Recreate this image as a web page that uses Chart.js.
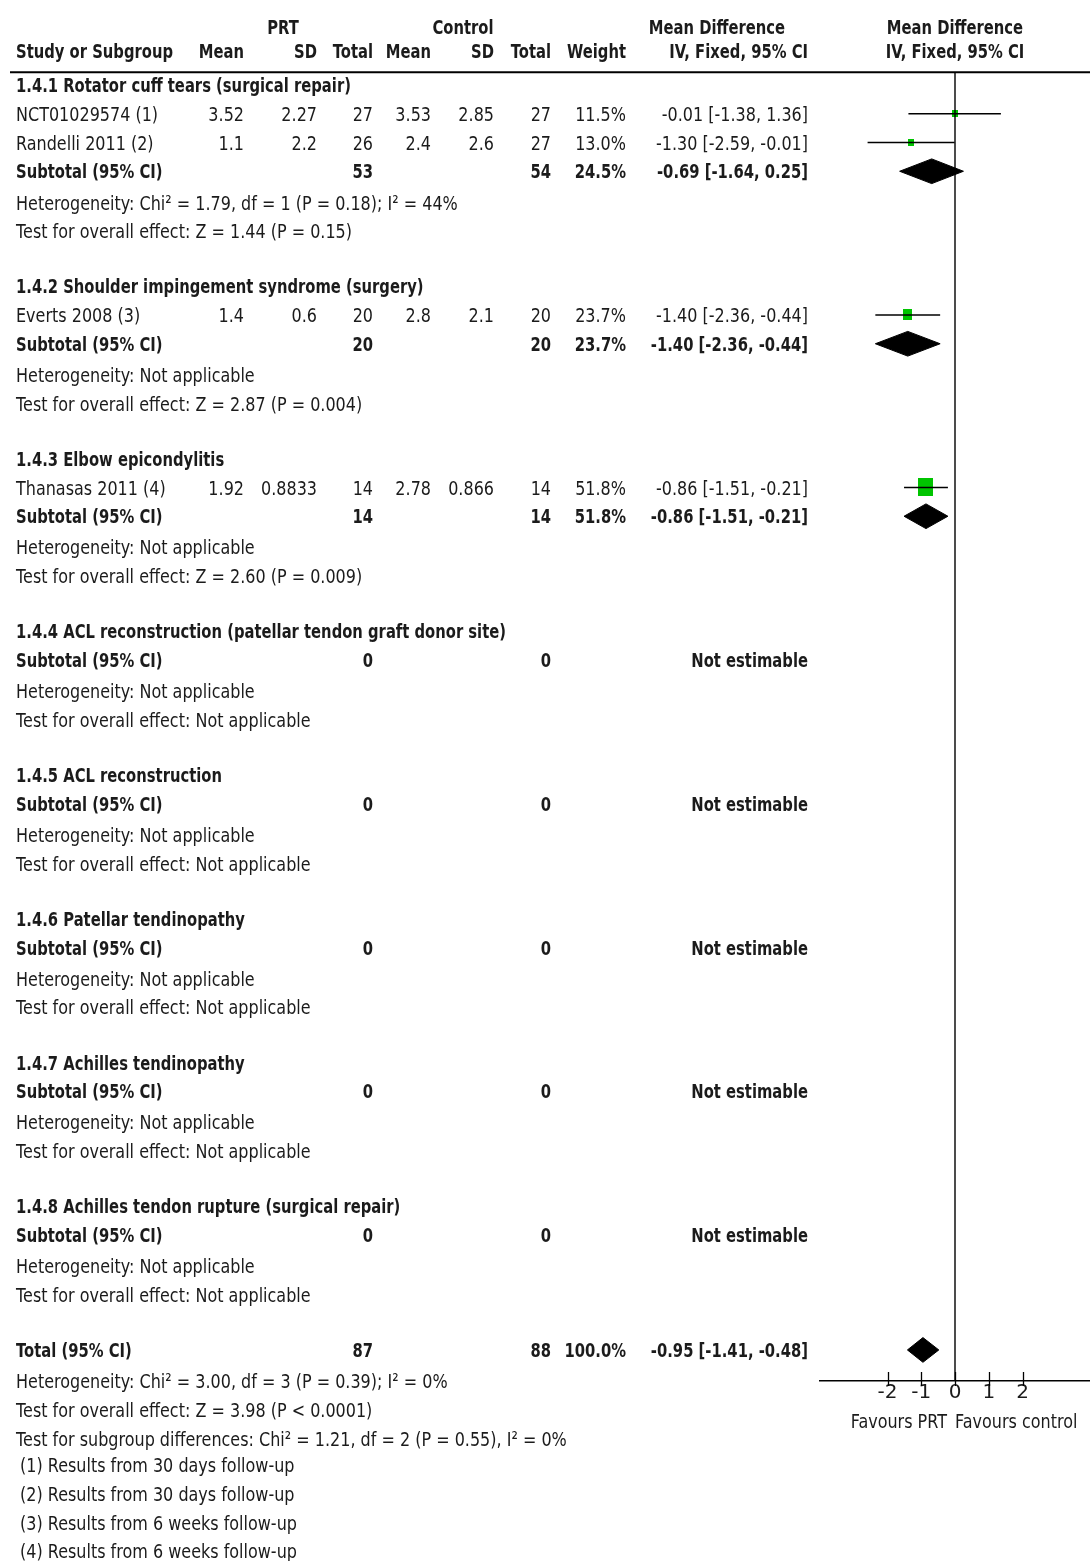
<!DOCTYPE html>
<html>
<head>
<meta charset="utf-8">
<title>PRT vs Control – Mean Difference</title>
<script src="https://cdn.jsdelivr.net/npm/chart.js@4.4.1/dist/chart.umd.min.js"></script>
<style>
  html, body { margin: 0; padding: 0; background: #ffffff; }
  canvas { display: block; }
</style>
</head>
<body>
<canvas id="forest" width="1090" height="1561"></canvas>
<script>
// ---------------- data ----------------
const subgroupTitles = [
  '1.4.1 Rotator cuff tears (surgical repair)',
  '1.4.2 Shoulder impingement syndrome (surgery)',
  '1.4.3 Elbow epicondylitis',
  '1.4.4 ACL reconstruction (patellar tendon graft donor site)',
  '1.4.5 ACL reconstruction',
  '1.4.6 Patellar tendinopathy',
  '1.4.7 Achilles tendinopathy',
  '1.4.8 Achilles tendon rupture (surgical repair)'
];

const studyNames  = ['NCT01029574 (1)', 'Randelli 2011 (2)', 'Everts 2008 (3)', 'Thanasas 2011 (4)'];
const studyGroup  = [0, 0, 1, 2];
const prtMean     = [3.52, 1.1, 1.4, 1.92];
const prtSD       = [2.27, 2.2, 0.6, 0.8833];
const prtTotal    = [27, 26, 20, 14];
const ctlMean     = [3.53, 2.4, 2.8, 2.78];
const ctlSD       = [2.85, 2.6, 2.1, 0.866];
const ctlTotal    = [27, 27, 20, 14];
const studyWeight = [11.5, 13.0, 23.7, 51.8];
const studyMD     = [-0.01, -1.30, -1.40, -0.86];
const studyLow    = [-1.38, -2.59, -2.36, -1.51];
const studyHigh   = [1.36, -0.01, -0.44, -0.21];

const subPrtTotal = [53, 20, 14, 0, 0, 0, 0, 0];
const subCtlTotal = [54, 20, 14, 0, 0, 0, 0, 0];
const subWeight   = [24.5, 23.7, 51.8, null, null, null, null, null];
const subMD       = [-0.69, -1.40, -0.86, null, null, null, null, null];
const subLow      = [-1.64, -2.36, -1.51, null, null, null, null, null];
const subHigh     = [0.25, -0.44, -0.21, null, null, null, null, null];
const subHeterogeneity = [
  'Heterogeneity: Chi² = 1.79, df = 1 (P = 0.18); I² = 44%',
  'Heterogeneity: Not applicable',
  'Heterogeneity: Not applicable',
  'Heterogeneity: Not applicable',
  'Heterogeneity: Not applicable',
  'Heterogeneity: Not applicable',
  'Heterogeneity: Not applicable',
  'Heterogeneity: Not applicable'
];
const subOverallEffect = [
  'Test for overall effect: Z = 1.44 (P = 0.15)',
  'Test for overall effect: Z = 2.87 (P = 0.004)',
  'Test for overall effect: Z = 2.60 (P = 0.009)',
  'Test for overall effect: Not applicable',
  'Test for overall effect: Not applicable',
  'Test for overall effect: Not applicable',
  'Test for overall effect: Not applicable',
  'Test for overall effect: Not applicable'
];

const totalPrt    = 87;
const totalCtl    = 88;
const totalWeight = 100.0;
const totalMD     = -0.95;
const totalLow    = -1.41;
const totalHigh   = -0.48;
const totalNotes = [
  'Heterogeneity: Chi² = 3.00, df = 3 (P = 0.39); I² = 0%',
  'Test for overall effect: Z = 3.98 (P < 0.0001)',
  'Test for subgroup differences: Chi² = 1.21, df = 2 (P = 0.55), I² = 0%'
];
const footnotes = [
  '(1) Results from 30 days follow-up',
  '(2) Results from 30 days follow-up',
  '(3) Results from 6 weeks follow-up',
  '(4) Results from 6 weeks follow-up'
];

const axisTicks   = [-2, -1, 0, 1, 2];
const axisLabels  = ['Favours PRT', 'Favours control'];
const headerTop   = ['PRT', 'Control', 'Mean Difference', 'Mean Difference'];
const headerCols  = ['Study or Subgroup', 'Mean', 'SD', 'Total', 'Mean', 'SD', 'Total', 'Weight', 'IV, Fixed, 95% CI', 'IV, Fixed, 95% CI'];

// ---------------- layout / style ----------------
const FONT_FAMILY = '"DejaVu Sans", "Open Sans", sans-serif';
const FONT_SIZE = 20;
const TEXT_COLOR = '#1b1b1b';
const BOX_COLOR = '#00c400';
const CAP_HALF = 7.2;                 // half cap-height, to centre text on a row
const X_MIN = -4, X_MAX = 4;          // plot scale range
const Y_TOP = -2.957, Y_AXIS = 45.08; // row units at the canvas top and at the axis line
const ROW_HEAD1 = -2.02, ROW_HEAD2 = -1.18, ROW_RULE = -0.44, ROW_FAVOURS = 46.45;
const NOTE_SHIFT = 0.08;
const DIAMOND_HALF = 0.43;            // diamond half-height, in rows
const COL = { study: 16, prtMean: 244, prtSD: 317, prtTotal: 373, ctlMean: 431, ctlSD: 494,
              ctlTotal: 551, weight: 626, ci: 808, note: 20 };
const HEAD = { prt: 283, control: 463, md: 717 };
const REF_REG  = { text: 'Test for overall effect: Z = 1.44 (P = 0.15)', width: 336 };
const REF_BOLD = { text: '1.4.4 ACL reconstruction (patellar tendon graft donor site)', width: 490 };

// ---------------- row positions ----------------
const rows = [];
const studyRow = [];
const subRow = [];
let r = 0;
subgroupTitles.forEach((title, g) => {
  rows.push({ y: r, kind: 'group', text: title }); r++;
  studyNames.forEach((name, i) => {
    if (studyGroup[i] === g) { studyRow[i] = r; rows.push({ y: r, kind: 'study', i }); r++; }
  });
  subRow[g] = r; rows.push({ y: r, kind: 'subtotal', g }); r++;
  rows.push({ y: r + NOTE_SHIFT, kind: 'note', text: subHeterogeneity[g] }); r++;
  rows.push({ y: r + NOTE_SHIFT, kind: 'note', text: subOverallEffect[g] }); r++;
  r++; // spacer
});
const totalRow = r;
rows.push({ y: r, kind: 'total' }); r++;
totalNotes.forEach(t => { rows.push({ y: r + NOTE_SHIFT, kind: 'note', text: t }); r++; });
footnotes.forEach(t => { rows.push({ y: r, kind: 'footnote', text: t }); r++; });

// ---------------- formatting ----------------
const fmtPct = w => w.toFixed(1) + '%';
const fmtCI = (m, l, h) => `${m.toFixed(2)} [${l.toFixed(2)}, ${h.toFixed(2)}]`;

// ---------------- plot datasets ----------------
function boxImage(weight) {
  const w = Math.max(3, Math.round(3.2 + 0.234 * weight));
  const h = Math.round(w * 1.2);
  const c = document.createElement('canvas');
  c.width = w; c.height = h;
  const g = c.getContext('2d');
  g.fillStyle = BOX_COLOR;
  g.fillRect(0, 0, w, h);
  return c;
}

const datasets = [];
// line of no effect
datasets.push({
  data: [{ x: 0, y: ROW_RULE }, { x: 0, y: Y_AXIS }],
  borderColor: '#000', borderWidth: 1.4, pointRadius: 0, fill: false
});
// confidence interval whiskers
studyNames.forEach((n, i) => {
  datasets.push({
    data: [{ x: studyLow[i], y: studyRow[i] }, { x: studyHigh[i], y: studyRow[i] }],
    borderColor: '#000', borderWidth: 1.7, pointRadius: 0, fill: false
  });
});
// weighted boxes
datasets.push({
  data: studyNames.map((n, i) => ({ x: studyMD[i], y: studyRow[i] })),
  showLine: false, pointRadius: 4, pointStyle: studyWeight.map(boxImage)
});
// pooled diamonds
function diamond(m, l, h, y) {
  return {
    data: [{ x: l, y }, { x: m, y: y - DIAMOND_HALF }, { x: h, y }, { x: m, y: y + DIAMOND_HALF }, { x: l, y }],
    borderColor: '#000', backgroundColor: '#000', borderWidth: 1, pointRadius: 0,
    fill: 'shape', tension: 0
  };
}
subMD.forEach((m, g) => { if (m !== null) datasets.push(diamond(m, subLow[g], subHigh[g], subRow[g])); });
datasets.push(diamond(totalMD, totalLow, totalHigh, totalRow));

// ---------------- table text plugin ----------------
const tablePlugin = {
  id: 'forestTable',
  afterDraw(chart) {
    const ctx = chart.ctx;
    const ys = chart.scales.y, xs = chart.scales.x;
    const Y = v => ys.getPixelForValue(v);

    ctx.save();
    ctx.font = FONT_SIZE + 'px ' + FONT_FAMILY;
    const sxReg = REF_REG.width / ctx.measureText(REF_REG.text).width;
    ctx.font = 'bold ' + FONT_SIZE + 'px ' + FONT_FAMILY;
    const sxBold = REF_BOLD.width / ctx.measureText(REF_BOLD.text).width;
    ctx.restore();

    function text(str, x, row, align, bold) {
      if (str === null || str === undefined || str === '') return;
      ctx.save();
      ctx.font = (bold ? 'bold ' : '') + FONT_SIZE + 'px ' + FONT_FAMILY;
      ctx.fillStyle = TEXT_COLOR;
      ctx.textAlign = align;
      ctx.textBaseline = 'alphabetic';
      ctx.translate(x, Y(row) + CAP_HALF);
      ctx.scale(bold ? sxBold : sxReg, 1);
      ctx.fillText(str, 0, 0);
      ctx.restore();
    }

    const x0 = xs.getPixelForValue(0);

    // column headings
    text(headerTop[0], HEAD.prt, ROW_HEAD1, 'center', true);
    text(headerTop[1], HEAD.control, ROW_HEAD1, 'center', true);
    text(headerTop[2], HEAD.md, ROW_HEAD1, 'center', true);
    text(headerTop[3], x0, ROW_HEAD1, 'center', true);
    text(headerCols[0], COL.study, ROW_HEAD2, 'left', true);
    text(headerCols[1], COL.prtMean, ROW_HEAD2, 'right', true);
    text(headerCols[2], COL.prtSD, ROW_HEAD2, 'right', true);
    text(headerCols[3], COL.prtTotal, ROW_HEAD2, 'right', true);
    text(headerCols[4], COL.ctlMean, ROW_HEAD2, 'right', true);
    text(headerCols[5], COL.ctlSD, ROW_HEAD2, 'right', true);
    text(headerCols[6], COL.ctlTotal, ROW_HEAD2, 'right', true);
    text(headerCols[7], COL.weight, ROW_HEAD2, 'right', true);
    text(headerCols[8], COL.ci, ROW_HEAD2, 'right', true);
    text(headerCols[9], x0, ROW_HEAD2, 'center', true);

    // heading rule
    ctx.save();
    ctx.strokeStyle = '#000';
    ctx.lineWidth = 2;
    ctx.beginPath();
    ctx.moveTo(10, Y(ROW_RULE));
    ctx.lineTo(chart.width, Y(ROW_RULE));
    ctx.stroke();
    ctx.restore();

    rows.forEach(row => {
      if (row.kind === 'group') {
        text(row.text, COL.study, row.y, 'left', true);
      } else if (row.kind === 'study') {
        const i = row.i;
        text(studyNames[i], COL.study, row.y, 'left', false);
        text(String(prtMean[i]), COL.prtMean, row.y, 'right', false);
        text(String(prtSD[i]), COL.prtSD, row.y, 'right', false);
        text(String(prtTotal[i]), COL.prtTotal, row.y, 'right', false);
        text(String(ctlMean[i]), COL.ctlMean, row.y, 'right', false);
        text(String(ctlSD[i]), COL.ctlSD, row.y, 'right', false);
        text(String(ctlTotal[i]), COL.ctlTotal, row.y, 'right', false);
        text(fmtPct(studyWeight[i]), COL.weight, row.y, 'right', false);
        text(fmtCI(studyMD[i], studyLow[i], studyHigh[i]), COL.ci, row.y, 'right', false);
      } else if (row.kind === 'subtotal') {
        const g = row.g;
        text('Subtotal (95% CI)', COL.study, row.y, 'left', true);
        text(String(subPrtTotal[g]), COL.prtTotal, row.y, 'right', true);
        text(String(subCtlTotal[g]), COL.ctlTotal, row.y, 'right', true);
        if (subMD[g] !== null) {
          text(fmtPct(subWeight[g]), COL.weight, row.y, 'right', true);
          text(fmtCI(subMD[g], subLow[g], subHigh[g]), COL.ci, row.y, 'right', true);
        } else {
          text('Not estimable', COL.ci, row.y, 'right', true);
        }
      } else if (row.kind === 'total') {
        text('Total (95% CI)', COL.study, row.y, 'left', true);
        text(String(totalPrt), COL.prtTotal, row.y, 'right', true);
        text(String(totalCtl), COL.ctlTotal, row.y, 'right', true);
        text(fmtPct(totalWeight), COL.weight, row.y, 'right', true);
        text(fmtCI(totalMD, totalLow, totalHigh), COL.ci, row.y, 'right', true);
      } else if (row.kind === 'note') {
        text(row.text, COL.study, row.y, 'left', false);
      } else if (row.kind === 'footnote') {
        text(row.text, COL.note, row.y, 'left', false);
      }
    });

    // axis tick marks and direction labels
    const axisY = Y(Y_AXIS);
    ctx.save();
    ctx.strokeStyle = '#000';
    ctx.lineWidth = 1.3;
    xs.ticks.forEach(t => {
      const px = Math.round(xs.getPixelForValue(t.value)) + 0.5;
      ctx.beginPath();
      ctx.moveTo(px, axisY - 9);
      ctx.lineTo(px, axisY + 5);
      ctx.stroke();
    });
    ctx.restore();
    text(axisLabels[0], x0 - 8, ROW_FAVOURS, 'right', false);
    text(axisLabels[1], x0, ROW_FAVOURS, 'left', false);
  }
};

// ---------------- chart ----------------
new Chart(document.getElementById('forest'), {
  type: 'line',
  data: { datasets },
  options: {
    responsive: false,
    animation: false,
    devicePixelRatio: 1,
    layout: { autoPadding: false, padding: { left: 820, right: 0, top: 0, bottom: 0 } },
    plugins: { legend: { display: false }, tooltip: { enabled: false } },
    elements: { line: { tension: 0 } },
    scales: {
      x: {
        type: 'linear',
        min: X_MIN, max: X_MAX,
        grid: { display: false, drawTicks: false },
        border: { display: true, color: '#000', width: 1.4 },
        afterBuildTicks: s => { s.ticks = axisTicks.map(v => ({ value: v })); },
        afterFit: s => { s.height = 180; },
        ticks: {
          autoSkip: false, maxRotation: 0, padding: 0,
          color: TEXT_COLOR,
          font: { family: FONT_FAMILY, size: FONT_SIZE },
          callback: v => String(v)
        }
      },
      y: {
        type: 'linear',
        reverse: true,
        min: Y_TOP, max: Y_AXIS,
        display: false
      }
    }
  },
  plugins: [tablePlugin]
});
</script>
</body>
</html>
